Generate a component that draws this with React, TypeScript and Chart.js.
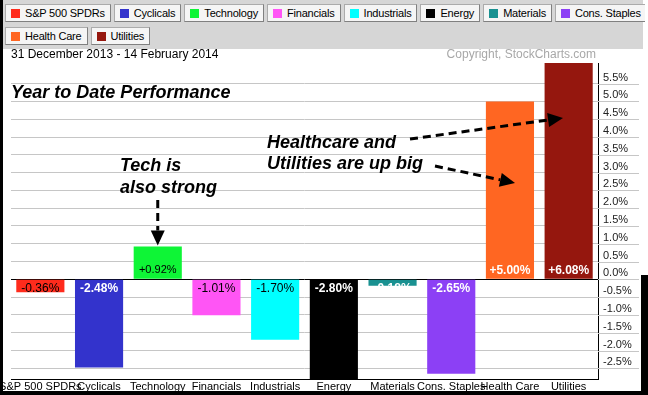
import React, { useEffect, useRef } from "react";
import { Chart, registerables } from "chart.js";

Chart.register(...registerables);

const categories = [
  "S&P 500 SPDRs",
  "Cyclicals",
  "Technology",
  "Financials",
  "Industrials",
  "Energy",
  "Materials",
  "Cons. Staples",
  "Health Care",
  "Utilities",
];
const performance = [-0.36, -2.48, 0.92, -1.01, -1.7, -2.8, -0.18, -2.65, 5.0, 6.08];
const barColors = [
  "#ff2b1c",
  "#3333cc",
  "#0ef536",
  "#ff55f5",
  "#00ffff",
  "#000000",
  "#199191",
  "#8c40f5",
  "#ff6622",
  "#95170e",
];
const valueLabelColors = [
  "#000000",
  "#ffffff",
  "#000000",
  "#000000",
  "#000000",
  "#ffffff",
  "#ffffff",
  "#ffffff",
  "#ffffff",
  "#ffffff",
];
const yTickValues = [-2.5, -2.0, -1.5, -1.0, -0.5, 0.0, 0.5, 1.0, 1.5, 2.0, 2.5, 3.0, 3.5, 4.0, 4.5, 5.0, 5.5];
const yMin = -2.8;
const yMax = 6.08;
const dateRange = "31 December 2013 - 14 February 2014";
const copyright = "Copyright, StockCharts.com";
const chartTitle = "Year to Date Performance";
const techNote = ["Tech is", "also strong"];
const bigNote = ["Healthcare and", "Utilities are up big"];

const FONT = '"Liberation Sans", Arial, Helvetica, sans-serif';

function arrow(ctx: CanvasRenderingContext2D, x1: number, y1: number, x2: number, y2: number) {
  const ang = Math.atan2(y2 - y1, x2 - x1);
  const headLen = 15;
  const headHalf = 7;
  const bx = x2 - Math.cos(ang) * headLen;
  const by = y2 - Math.sin(ang) * headLen;
  ctx.save();
  ctx.strokeStyle = "#000";
  ctx.fillStyle = "#000";
  ctx.lineWidth = 3;
  ctx.setLineDash([8, 5]);
  ctx.beginPath();
  ctx.moveTo(x1, y1);
  ctx.lineTo(bx, by);
  ctx.stroke();
  ctx.setLineDash([]);
  ctx.beginPath();
  ctx.moveTo(x2, y2);
  ctx.lineTo(bx + Math.sin(ang) * headHalf, by - Math.cos(ang) * headHalf);
  ctx.lineTo(bx - Math.sin(ang) * headHalf, by + Math.cos(ang) * headHalf);
  ctx.closePath();
  ctx.fill();
  ctx.restore();
}

const decorPlugin = {
  id: "decor",
  beforeDatasetsDraw(chart: any) {
    const ctx = chart.ctx as CanvasRenderingContext2D;
    const y = chart.scales.y;
    const area = chart.chartArea;
    ctx.save();
    ctx.strokeStyle = "#c6c6c6";
    ctx.lineWidth = 1;
    y.ticks.forEach((t: any) => {
      const py = Math.round(y.getPixelForValue(t.value)) + 0.5;
      ctx.beginPath();
      ctx.moveTo(area.right, py);
      ctx.lineTo(area.right + 41, py);
      ctx.stroke();
    });
    ctx.restore();
  },
  afterDatasetsDraw(chart: any) {
    const ctx = chart.ctx as CanvasRenderingContext2D;
    const meta = chart.getDatasetMeta(0);
    const yS = chart.scales.y;
    const zero = yS.getPixelForValue(0);
    ctx.save();
    ctx.textAlign = "center";
    ctx.textBaseline = "middle";
    meta.data.forEach((bar: any, i: number) => {
      const v = performance[i];
      const col = valueLabelColors[i];
      const bold = col === "#ffffff";
      const size = i === 2 ? 11 : 12;
      ctx.font = `${bold ? "bold " : ""}${size}px ${FONT}`;
      ctx.fillStyle = col;
      const txt = (v > 0 ? "+" : "") + v.toFixed(2) + "%";
      const ty = v >= 0 ? zero - 9 : zero + 9;
      ctx.fillText(txt, bar.x, ty);
    });

    ctx.textAlign = "left";
    ctx.fillStyle = "#000";
    ctx.font = `12px ${FONT}`;
    ctx.fillText(dateRange, 11, 55);
    ctx.textAlign = "right";
    ctx.fillStyle = "#a8a8a8";
    ctx.fillText(copyright, 596, 55);

    ctx.textAlign = "left";
    ctx.fillStyle = "#000";
    ctx.font = `italic bold 18px ${FONT}`;
    ctx.fillText(chartTitle, 11, 93);
    ctx.fillText(techNote[0], 120, 166);
    ctx.fillText(techNote[1], 120, 188);
    ctx.fillText(bigNote[0], 267, 143);
    ctx.fillText(bigNote[1], 267, 164);
    ctx.restore();

    const tech = meta.data[2];
    arrow(ctx, tech.x, 200, tech.x, tech.y - 1);
    arrow(ctx, 410, 139, 563, 118);
    arrow(ctx, 435, 166, 515, 183);
  },
};

export default function App() {
  const ref = useRef<HTMLCanvasElement | null>(null);

  useEffect(() => {
    document.body.style.margin = "0";
    const canvas = ref.current;
    if (!canvas) return;
    const chart = new Chart(canvas, {
      type: "bar",
      data: {
        labels: categories,
        datasets: [
          {
            data: performance,
            backgroundColor: barColors,
            borderWidth: 0,
            barPercentage: 0.82,
            categoryPercentage: 1,
          },
        ],
      },
      options: {
        animation: false,
        responsive: false,
        maintainAspectRatio: false,
        devicePixelRatio: 1,
        layout: { padding: { left: 11, top: 63, right: 0, bottom: 0 } },
        plugins: { legend: { display: false }, tooltip: { enabled: false } },
        scales: {
          x: {
            grid: { display: false, drawTicks: false },
            border: { display: true, color: "#000", width: 1 },
            ticks: {
              autoSkip: false,
              maxRotation: 0,
              minRotation: 0,
              color: "#000",
              padding: 1,
              font: { size: 11, family: FONT },
            },
            afterFit: (s: any) => {
              s.height = 16;
              s.paddingLeft = 0;
              s.paddingRight = 0;
            },
          },
          y: {
            position: "right",
            min: yMin,
            max: yMax,
            afterBuildTicks: (axis: any) => {
              axis.ticks = yTickValues.map((v) => ({ value: v }));
            },
            grid: {
              drawTicks: false,
              color: (c: any) => (c.tick && c.tick.value === 0 ? "#000" : "#c6c6c6"),
              lineWidth: 1,
            },
            border: { display: true, color: "#000", width: 1 },
            ticks: {
              padding: 5,
              labelOffset: -6,
              color: "#222",
              font: { size: 11, family: FONT },
              callback: (v: any) => Number(v).toFixed(1) + "%",
            },
            afterFit: (s: any) => {
              s.width = 50;
              s.paddingTop = 0;
              s.paddingBottom = 0;
            },
          },
        },
      } as any,
      plugins: [decorPlugin],
    });
    return () => chart.destroy();
  }, []);

  const btn = (i: number) => (
    <div
      key={i}
      style={{
        display: "inline-flex",
        alignItems: "center",
        boxSizing: "border-box",
        height: 18,
        padding: "0 5px 0 5px",
        marginRight: 3,
        background: "#f5f5f5",
        border: "1px solid #ababab",
        borderRightColor: "#808080",
        borderBottomColor: "#808080",
        font: `11px ${FONT}`,
        letterSpacing: "-0.2px",
        color: "#000",
        whiteSpace: "nowrap",
        flex: "none",
      }}
    >
      <span style={{ display: "inline-block", width: 9, height: 9, background: barColors[i], marginRight: 5 }} />
      {categories[i]}
    </div>
  );

  return (
    <div style={{ position: "absolute", left: 0, top: 0, width: 648, height: 395, background: "#000", overflow: "hidden" }}>
      <div style={{ position: "absolute", left: 3, top: 0, width: 645, height: 275, background: "#fff" }} />
      <div style={{ position: "absolute", left: 3, top: 0, width: 638, height: 391, background: "#fff" }} />
      <div style={{ position: "absolute", left: 3, top: 0, width: 640, height: 49, background: "#d6d6d6" }} />
      <div style={{ position: "absolute", left: 5, top: 4, display: "flex", width: 640, overflow: "hidden" }}>
        {[0, 1, 2, 3, 4, 5, 6, 7].map(btn)}
      </div>
      <div style={{ position: "absolute", left: 5, top: 27, display: "flex" }}>{[8, 9].map(btn)}</div>
      <canvas
        ref={ref}
        width={648}
        height={395}
        style={{ position: "absolute", left: 0, top: 0, width: 648, height: 395 }}
      />
      <div style={{ position: "absolute", left: 0, top: 0, width: 3, height: 395, background: "#000" }} />
      <div style={{ position: "absolute", left: 0, top: 391, width: 648, height: 4, background: "#000" }} />
    </div>
  );
}
